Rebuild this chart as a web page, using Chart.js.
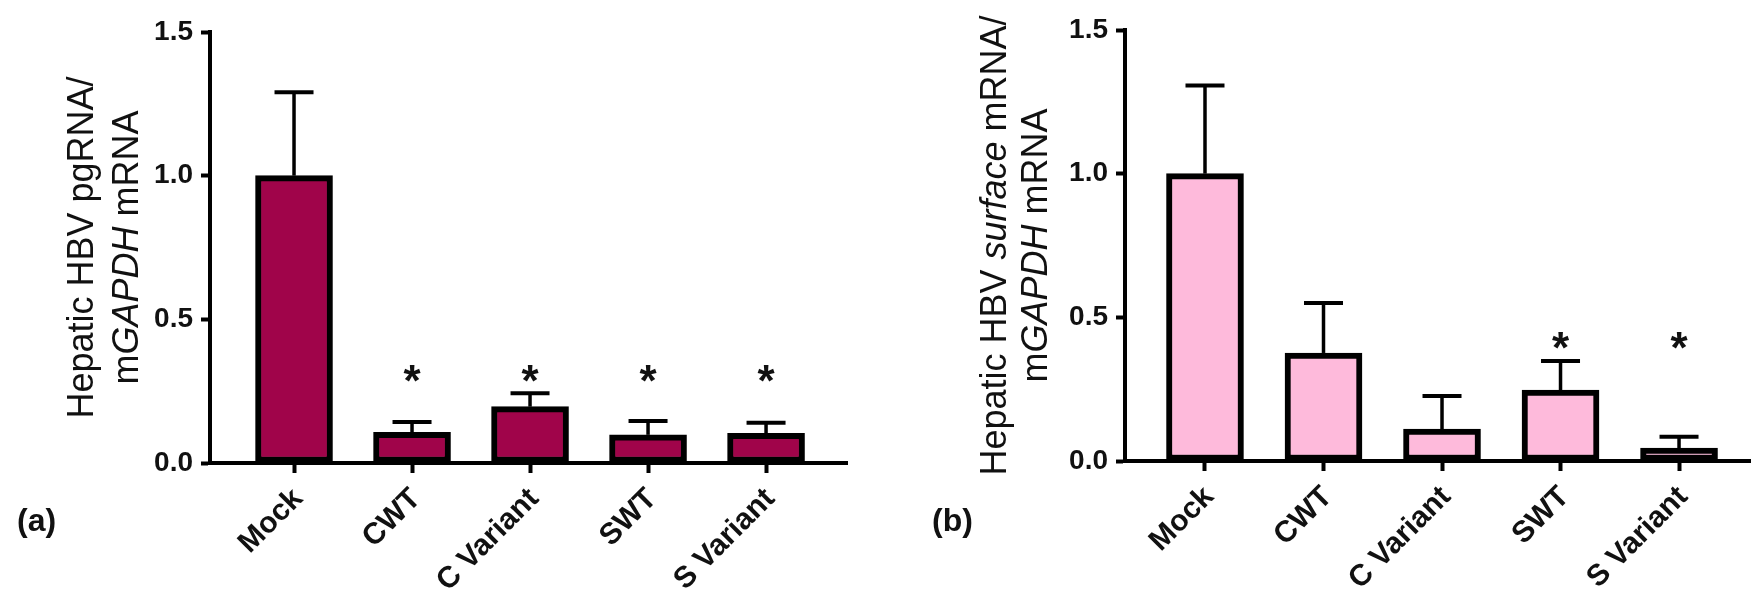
<!DOCTYPE html>
<html>
<head>
<meta charset="utf-8">
<script src="https://cdn.jsdelivr.net/npm/chart.js@4.4.1/dist/chart.umd.min.js"></script>
<style>
html, body { margin: 0; padding: 0; background: #fff; overflow: hidden; }
#wrapA { position: absolute; left: 0; top: 0; width: 880px; height: 599px; }
#wrapB { position: absolute; left: 900px; top: 0; width: 880px; height: 599px; }
</style>
</head>
<body>
<div id="wrapA"><canvas id="chartA"></canvas></div>
<div id="wrapB"><canvas id="chartB"></canvas></div>
<script>
// groups on the x axis, same for both panels
var groups = ["Mock", "CWT", "C Variant", "SWT", "S Variant"];
var yTicks = [0, 0.5, 1.0, 1.5];

// (a) pgRNA / GAPDH
var pgrnaMean = [1.00, 0.107, 0.196, 0.098, 0.103];
var pgrnaSd = [0.29, 0.036, 0.047, 0.048, 0.037];
var pgrnaStars = [null, 0.31, 0.31, 0.31, 0.31];

// (b) surface mRNA / GAPDH
var surfaceMean = [1.00, 0.376, 0.111, 0.247, 0.045];
var surfaceSd = [0.307, 0.174, 0.115, 0.101, 0.039];
var surfaceStars = [null, null, null, 0.42, 0.42];

var FONT = "'Liberation Sans', Arial, Helvetica, sans-serif";
Chart.defaults.font.family = FONT;
Chart.defaults.color = "#111";

// error bars, asterisks, slanted group labels, rotated axis title with italic runs, panel letter
var panelExtras = {
    id: "panelExtras",
    afterDatasetsDraw: function (chart, args, opts) {
        var ctx = chart.ctx, xs = chart.scales.x, ys = chart.scales.y, area = chart.chartArea;
        ctx.save();
        ctx.strokeStyle = "#000";
        ctx.fillStyle = "#111";
        opts.mean.forEach(function (m, i) {
            var x = xs.getPixelForValue(i);
            var yBar = ys.getPixelForValue(m);
            var yTop = ys.getPixelForValue(m + opts.sd[i]);
            ctx.lineWidth = 3.5;
            ctx.beginPath(); ctx.moveTo(x, yBar); ctx.lineTo(x, yTop); ctx.stroke();
            ctx.lineWidth = 4;
            ctx.beginPath(); ctx.moveTo(x - 19.5, yTop); ctx.lineTo(x + 19.5, yTop); ctx.stroke();
        });

        ctx.font = "bold 44px " + FONT;
        ctx.textAlign = "center";
        ctx.textBaseline = "alphabetic";
        opts.stars.forEach(function (s, i) {
            if (s === null) return;
            var mt = ctx.measureText("*");
            var y = ys.getPixelForValue(s) + (mt.actualBoundingBoxAscent - mt.actualBoundingBoxDescent) / 2;
            ctx.fillText("*", xs.getPixelForValue(i), y);
        });

        // group labels at 45 degrees, ending just right of the tick
        ctx.font = "bold 30px " + FONT;
        ctx.textAlign = "right";
        groups.forEach(function (g, i) {
            ctx.save();
            ctx.translate(xs.getPixelForValue(i) + 10, xs.top + 37);
            ctx.rotate(-Math.PI / 4);
            ctx.fillText(g, 0, 0);
            ctx.restore();
        });

        // y title, two lines
        var cy = (area.top + area.bottom) / 2;
        ctx.textAlign = "left";
        opts.title.forEach(function (line, k) {
            var fonts = line.map(function (r) { return (r[1] ? "italic " : "") + "36px " + FONT; });
            var widths = line.map(function (r, j) { ctx.font = fonts[j]; return ctx.measureText(r[0]).width; });
            var total = widths.reduce(function (a, b) { return a + b; }, 0);
            ctx.save();
            ctx.translate(area.left + opts.titleX[k], cy);
            ctx.rotate(-Math.PI / 2);
            var pos = -total / 2;
            line.forEach(function (r, j) {
                ctx.font = fonts[j];
                ctx.fillText(r[0], pos, 0);
                pos += widths[j];
            });
            ctx.restore();
        });

        ctx.font = "bold 32px " + FONT;
        ctx.textBaseline = "middle";
        ctx.fillText(opts.panel, area.left + opts.panelX, opts.panelY);
        ctx.restore();
    }
};

function panelChart(id, o) {
    return new Chart(document.getElementById(id), {
        type: "bar",
        data: {
            datasets: [{
                data: o.mean.map(function (v, i) { return { x: i, y: v }; }),
                backgroundColor: o.color,
                borderColor: "#000",
                borderWidth: 6,
                borderSkipped: false,
                barThickness: 77
            }]
        },
        options: {
            responsive: true,
            maintainAspectRatio: false,
            animation: false,
            layout: { padding: o.padding },
            scales: {
                x: {
                    type: "linear",
                    offset: false,
                    bounds: "data",
                    min: o.xMin,
                    max: o.xMax,
                    afterBuildTicks: function (s) { s.ticks = groups.map(function (g, i) { return { value: i }; }); },
                    afterFit: function (s) { s.height = o.xAxisH; },
                    ticks: { display: false },
                    grid: { drawOnChartArea: false, offset: false, tickLength: 10, tickWidth: 4, tickColor: "#000" },
                    border: { color: "#000", width: 4 }
                },
                y: {
                    min: 0,
                    max: 1.5,
                    afterBuildTicks: function (s) { s.ticks = yTicks.map(function (v) { return { value: v }; }); },
                    afterFit: function (s) { s.width = o.yAxisW; },
                    ticks: {
                        callback: function (v) { return v.toFixed(1); },
                        padding: 8,
                        font: { size: 28, weight: "bold" }
                    },
                    grid: { drawOnChartArea: false, tickLength: 9, tickWidth: 4, tickColor: "#000" },
                    border: { color: "#000", width: 4 }
                }
            },
            plugins: {
                legend: { display: false },
                tooltip: { enabled: false },
                panelExtras: {
                    mean: o.mean, sd: o.sd, stars: o.stars,
                    title: o.title, titleX: o.titleX,
                    panel: o.panel, panelX: -193, panelY: 522
                }
            }
        },
        plugins: [panelExtras]
    });
}

var chartA = panelChart("chartA", {
    mean: pgrnaMean, sd: pgrnaSd, stars: pgrnaStars,
    color: "#A0044A",
    padding: { top: 32, left: 0, right: 33, bottom: 0 },
    xAxisH: 136, yAxisW: 210,
    xMin: -0.712, xMax: 4.686,
    title: [
        [["Hepatic HBV pgRNA/", false]],
        [["m", false], ["GAPDH", true], [" mRNA", false]]
    ],
    titleX: [-117, -72],
    panel: "(a)"
});

var chartB = panelChart("chartB", {
    mean: surfaceMean, sd: surfaceSd, stars: surfaceStars,
    color: "#FEBADB",
    padding: { top: 30, left: 0, right: 0, bottom: 0 },
    xAxisH: 138, yAxisW: 225,
    xMin: -0.675, xMax: 4.852,
    title: [
        [["Hepatic HBV ", false], ["surface", true], [" mRNA/", false]],
        [["m", false], ["GAPDH", true], [" mRNA", false]]
    ],
    titleX: [-119, -78],
    panel: "(b)"
});
</script>
</body>
</html>
